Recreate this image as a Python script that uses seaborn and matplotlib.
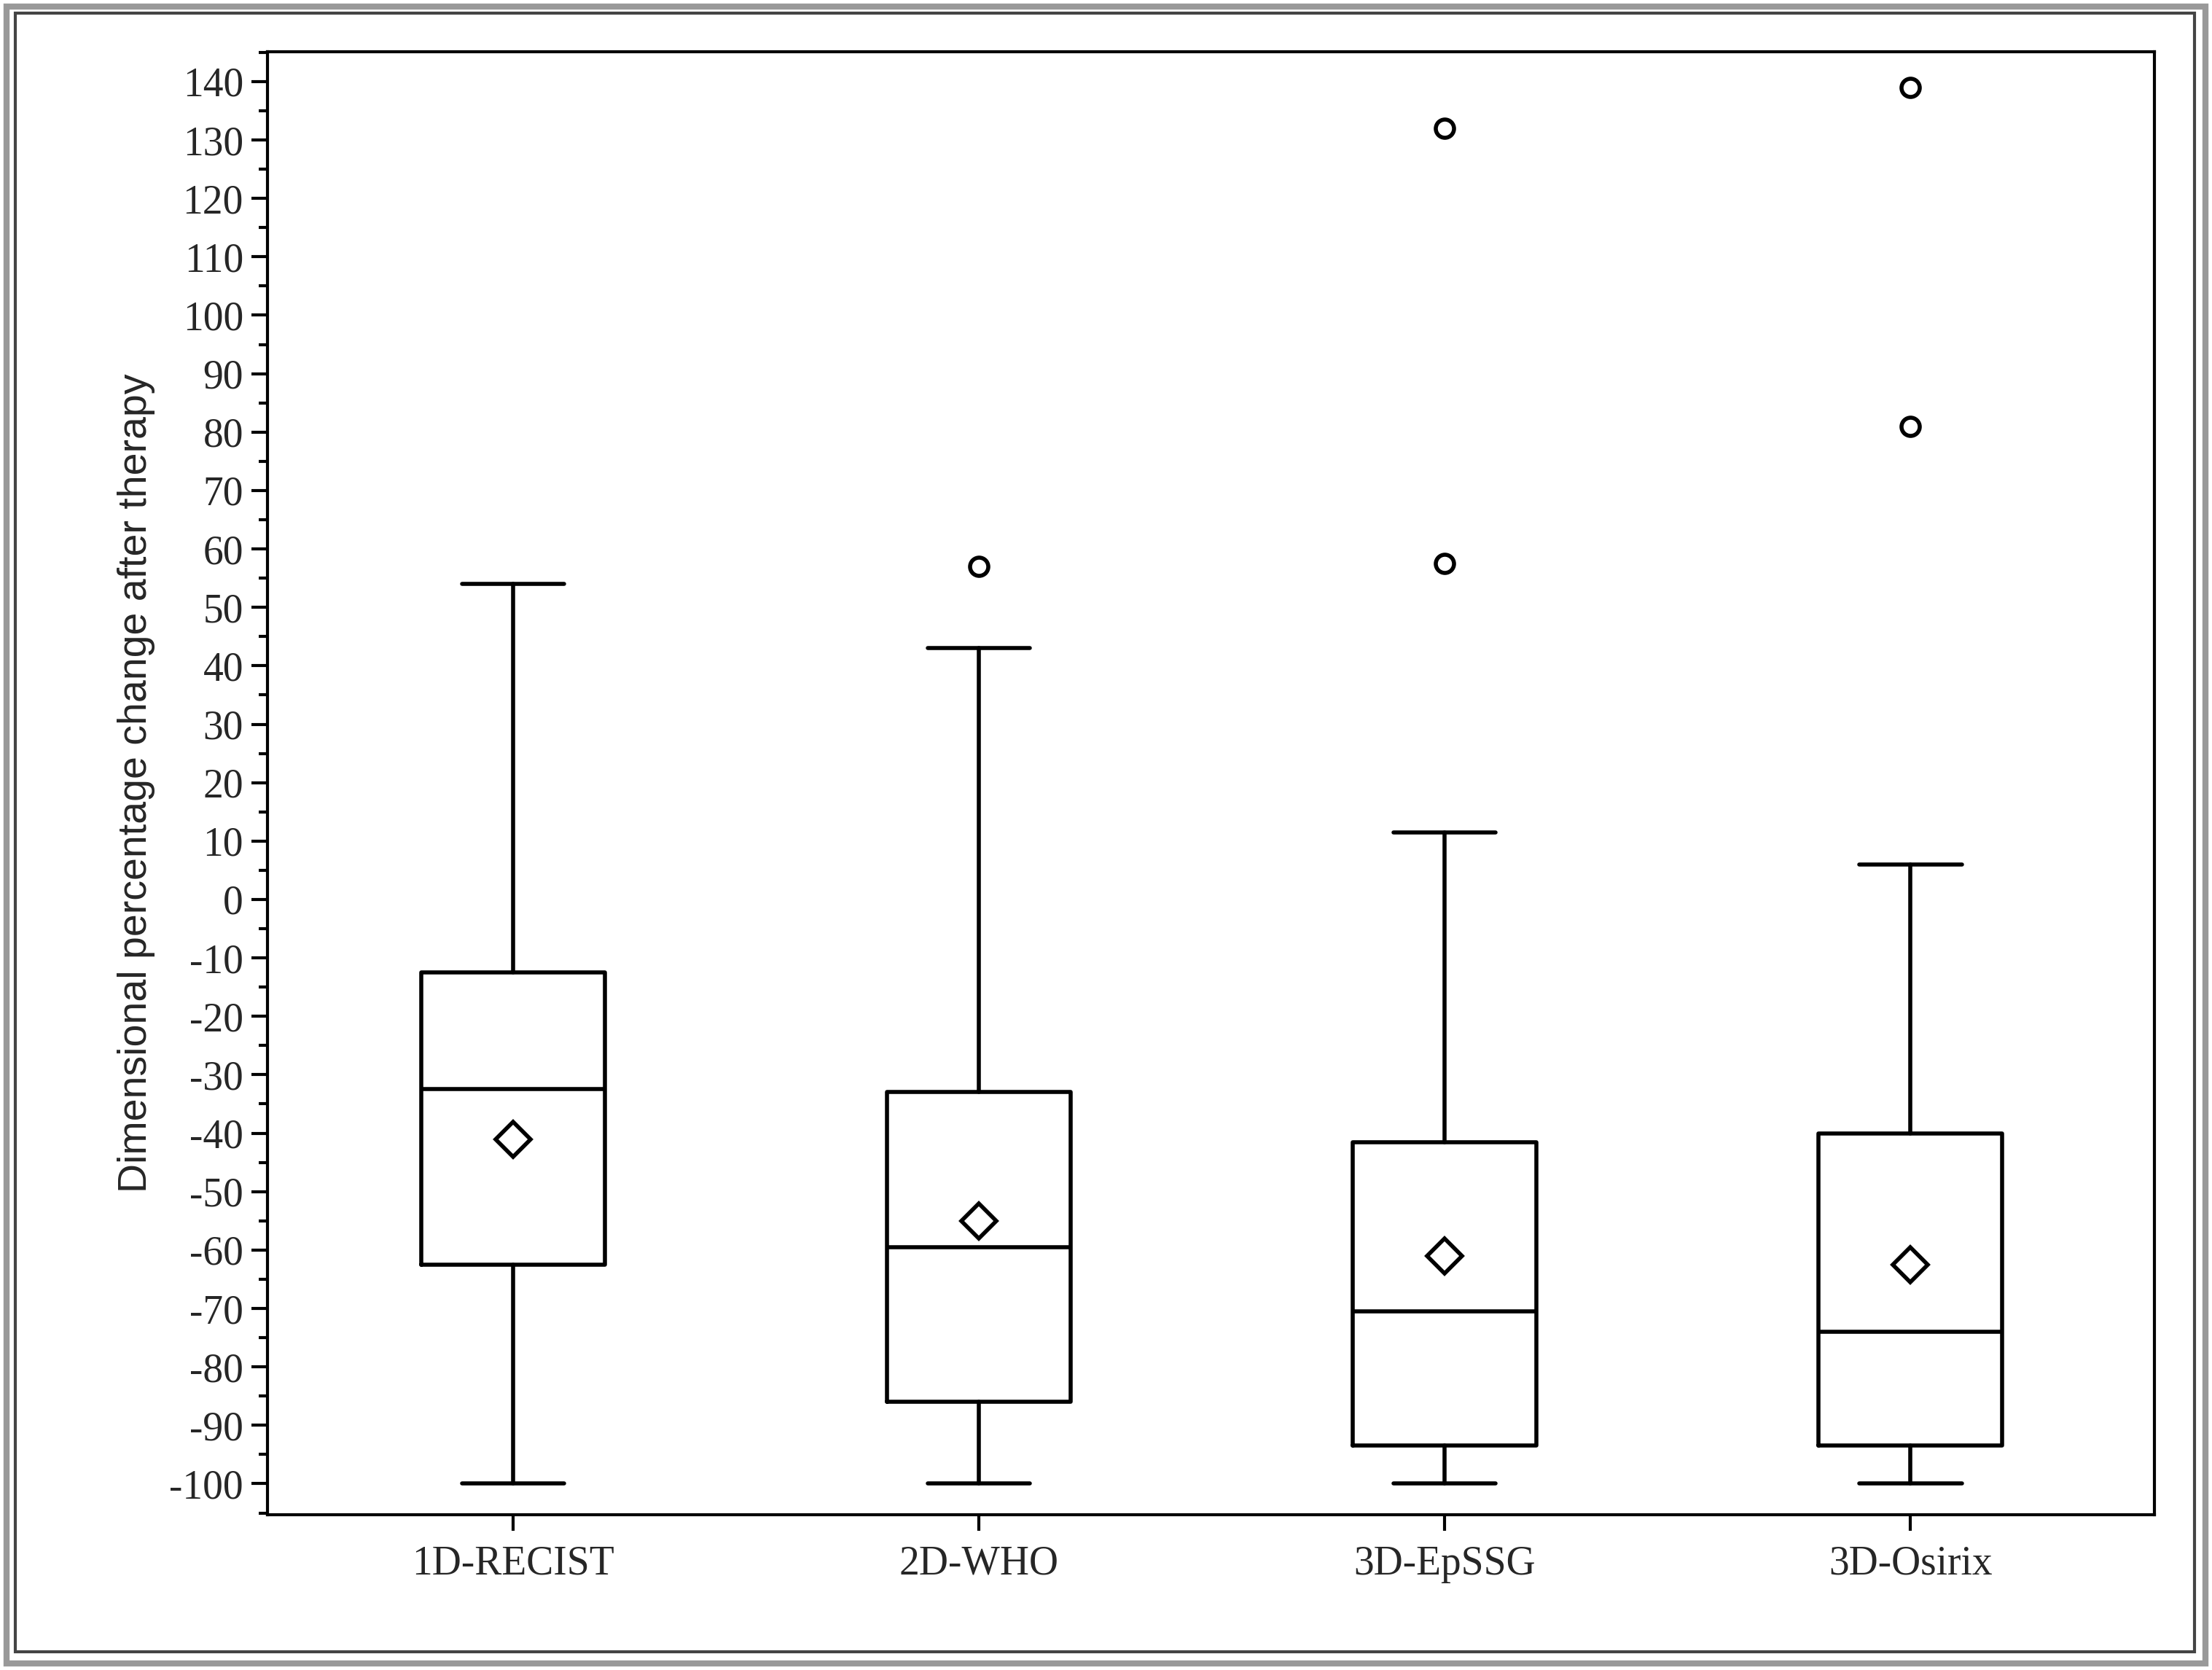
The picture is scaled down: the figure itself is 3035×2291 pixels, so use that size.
import matplotlib
matplotlib.use("Agg")
import matplotlib.pyplot as plt
import seaborn as sns
from matplotlib.patches import Rectangle
from matplotlib.ticker import MultipleLocator

sns.set_style("ticks")
plt.rcParams['axes.unicode_minus'] = False

# summary statistics
methods = ['1D-RECIST', '2D-WHO', '3D-EpSSG', '3D-Osirix']
whis_lo = [-100, -100, -100, -100]
q1 = [-62.5, -86, -93.5, -93.5]
medians = [-32.5, -59.5, -70.5, -74]
q3 = [-12.5, -33, -41.5, -40]
whis_hi = [54, 43, 11.5, 6]
means = [-41, -55, -61, -62.5]
outliers = [[], [57], [57.5, 132], [81, 139]]

stats = []
for i, m in enumerate(methods):
    stats.append(dict(label=m, whislo=whis_lo[i], q1=q1[i], med=medians[i],
                      q3=q3[i], whishi=whis_hi[i], mean=means[i], fliers=outliers[i]))

fig = plt.figure(figsize=(30.35, 22.91), dpi=100)
ax = fig.add_axes([0.121, 0.093, 0.853, 0.876])

lw = 4
ax.bxp(stats, positions=range(len(methods)), widths=0.394, showmeans=True,
       capwidths=0.22,
       boxprops=dict(color='black', linewidth=lw),
       whiskerprops=dict(color='black', linewidth=lw),
       capprops=dict(color='black', linewidth=lw),
       medianprops=dict(color='black', linewidth=lw),
       meanprops=dict(marker='D', markerfacecolor='white', markeredgecolor='black',
                      markersize=24, markeredgewidth=4),
       flierprops=dict(marker='o', markerfacecolor='white', markeredgecolor='black',
                       markersize=18, markeredgewidth=4))

ax.set_xlim(-0.527, 3.524)
ax.set_ylim(-105.3, 145.1)
ax.yaxis.set_major_locator(MultipleLocator(10))
ax.yaxis.set_minor_locator(MultipleLocator(5))
ax.set_xticks(range(len(methods)))
ax.set_xticklabels(methods)
for lab in ax.get_xticklabels() + ax.get_yticklabels():
    lab.set_fontfamily('Liberation Serif')
    lab.set_fontsize(40)
ax.tick_params(which='major', length=16, width=3, color='black')
ax.tick_params(which='minor', length=9, width=3, color='black')
ax.tick_params(axis='x', pad=14)
ax.tick_params(axis='y', pad=8)
ax.set_ylabel('Dimensional percentage change after therapy', fontsize=40,
              fontfamily='Liberation Sans', labelpad=14)
for s in ax.spines.values():
    s.set_visible(True)
    s.set_linewidth(3)
    s.set_color('black')

# outer frame
fig.patches.append(Rectangle((0.003, 0.004), 0.994, 0.992, transform=fig.transFigure,
                             fill=False, edgecolor='#999999', linewidth=6))
fig.patches.append(Rectangle((0.007, 0.011), 0.985, 0.981, transform=fig.transFigure,
                             fill=False, edgecolor='#444444', linewidth=3))

fig.savefig('out.png', dpi=100)
